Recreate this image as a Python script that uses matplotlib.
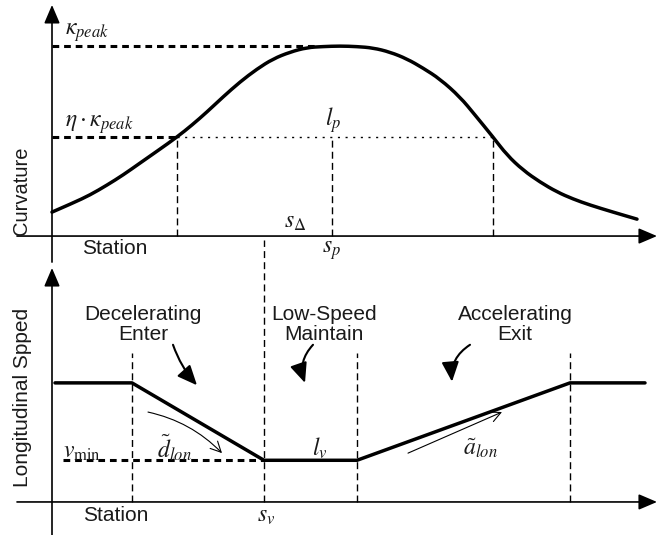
import matplotlib.pyplot as plt
from matplotlib.path import Path
from matplotlib.patches import PathPatch

plt.rcParams['font.family'] = ['Liberation Sans', 'DejaVu Sans']
plt.rcParams['mathtext.fontset'] = 'stix'

# curvature profile (station, curvature / kappa_peak)
curv_s = [0, 21, 38, 55, 71, 88, 106, 125, 140, 155, 171, 188, 205, 221, 238,
          255, 271, 288, 305, 321, 338, 355, 371, 388, 408, 423, 441, 455, 471,
          488, 505, 521, 538, 561, 585]
curv_k = [0.126, 0.174, 0.216, 0.268, 0.321, 0.384, 0.450, 0.521, 0.584, 0.653,
          0.732, 0.811, 0.879, 0.932, 0.968, 0.992, 0.997, 1.000, 0.997, 0.990,
          0.968, 0.932, 0.884, 0.826, 0.732, 0.637, 0.521, 0.426, 0.347, 0.284,
          0.232, 0.195, 0.163, 0.126, 0.089]
k_peak = 1.0
eta = 0.521
s_in, s_out = 125, 441      # where curvature crosses eta * k_peak
s_p = 280
s_delta = 212

# speed profile of the lower panel
speed_s = [3, 80, 212, 305, 518, 593]
speed_v = [20, 20, 7, 7, 20, 20]
v_min = 7
phase_bounds = [80, 305, 518]

TXT = '#1a1a1a'
THICK_DASH = (0, (2.2, 1.6))
THIN_DASH = (0, (5, 3))

fig = plt.figure(figsize=(6.57, 5.35), dpi=100)
ax1 = fig.add_axes([0, 275 / 535, 1, 260 / 535])
ax2 = fig.add_axes([0, 0, 1, 295 / 535])
for ax in (ax1, ax2):
    ax.set_axis_off()
    ax.set_xlim(-52, 605)
    ax.patch.set_alpha(0)
ax1.set_ylim(-0.126, 1.242)
ax2.set_ylim(-5.55, 44.0)


def axis_arrow(ax, start, end):
    ax.annotate('', xy=end, xytext=start, annotation_clip=False,
                arrowprops=dict(arrowstyle='-|>,head_length=0.75,head_width=0.32',
                                lw=1.2, color='k', shrinkA=0, shrinkB=0,
                                mutation_scale=15))


def note_arrow(ax, start, end, rad, thick=True):
    if thick:
        props = dict(arrowstyle='-|>,head_length=0.8,head_width=0.35', lw=1.5,
                     mutation_scale=15)
    else:
        props = dict(arrowstyle='->,head_length=0.5,head_width=0.25', lw=0.8,
                     mutation_scale=15)
    props.update(color='k', shrinkA=0, shrinkB=0,
                 connectionstyle='arc3,rad=%s' % rad)
    ax.annotate('', xy=end, xytext=start, arrowprops=props)


def smooth_path(xs, ys):
    # read points used as quadratic bezier controls, so the drawn line is smooth
    pts = list(zip(xs, ys))
    verts = [pts[0]]
    codes = [Path.MOVETO]
    for i in range(1, len(pts) - 1):
        mid = ((pts[i][0] + pts[i + 1][0]) / 2, (pts[i][1] + pts[i + 1][1]) / 2)
        verts += [pts[i], mid]
        codes += [Path.CURVE3, Path.CURVE3]
    verts.append(pts[-1])
    codes.append(Path.LINETO)
    return Path(verts, codes)


# ---------- upper panel: curvature ----------
axis_arrow(ax1, (-35, 0), (605, 0))
axis_arrow(ax1, (0, -0.137), (0, 1.216))

ax1.add_patch(PathPatch(smooth_path(curv_s, curv_k), fill=False, color='k',
                        lw=2.5, capstyle='round'))
ax1.plot([0, 263], [k_peak, k_peak], color='k', lw=2.2, ls=THICK_DASH)
ax1.plot([0, s_in], [eta * k_peak] * 2, color='k', lw=2.2, ls=THICK_DASH)
ax1.plot([s_in, s_out], [eta * k_peak] * 2, color='k', lw=1.0, ls=(0, (1.5, 4)))
for s in (s_in, s_p, s_out):
    ax1.plot([s, s], [0, eta * k_peak], color='k', lw=1.0, ls=THIN_DASH)

ax1.text(13, 1.068, r'$\kappa_{peak}$', fontsize=17, color=TXT, va='center')
ax1.text(13, 0.589, r'$\eta\cdot\kappa_{peak}$', fontsize=17, color=TXT, va='center')
ax1.text(273, 0.61, r'$l_p$', fontsize=17, color=TXT, va='center')
ax1.text(232, 0.074, r'$s_\Delta$', fontsize=17, color=TXT, va='center')
ax1.text(270, -0.074, r'$s_p$', fontsize=17, color=TXT, va='center')
ax1.text(30, -0.063, 'Station', fontsize=15, color=TXT, va='center')
ax1.text(-30, 0.237, 'Curvature', fontsize=14.5, color=TXT, rotation=90,
         ha='center', va='center')

# ---------- lower panel: longitudinal speed ----------
axis_arrow(ax2, (-35, 0), (605, 0))
axis_arrow(ax2, (0, -5.55), (0, 39.3))

ax2.plot(speed_s, speed_v, color='k', lw=2.5, solid_capstyle='round')
ax2.plot([11, s_delta], [v_min, v_min], color='k', lw=2.2, ls=THICK_DASH)
ax2.plot([s_delta, s_delta], [0, 44.0], color='k', lw=1.0, ls=THIN_DASH, clip_on=False)
for s in phase_bounds:
    ax2.plot([s, s], [0, 25], color='k', lw=1.0, ls=THIN_DASH)

ax2.text(91, 29.8, 'Decelerating\nEnter', fontsize=15, color=TXT,
         ha='center', va='center', linespacing=1.1)
ax2.text(272, 29.8, 'Low-Speed\nMaintain', fontsize=15, color=TXT,
         ha='center', va='center', linespacing=1.1)
ax2.text(463, 29.8, 'Accelerating\nExit', fontsize=15, color=TXT,
         ha='center', va='center', linespacing=1.1)

note_arrow(ax2, (121, 26.4), (145, 19.6), 0.1)
note_arrow(ax2, (261, 26.4), (253, 20.0), 0.3)
note_arrow(ax2, (418, 26.4), (400, 20.2), 0.3)
note_arrow(ax2, (96, 15.1), (170, 8.2), -0.15, thick=False)
note_arrow(ax2, (356, 8.2), (450, 15.1), 0, thick=False)

ax2.text(11, 8.4, r'$v_{\min}$', fontsize=17, color=TXT, va='center')
ax2.text(105, 9.07, r'$\tilde{d}_{lon}$', fontsize=17, color=TXT, va='center')
ax2.text(260, 9.07, r'$l_v$', fontsize=17, color=TXT, va='center')
ax2.text(411, 9.07, r'$\tilde{a}_{lon}$', fontsize=17, color=TXT, va='center')
ax2.text(205, -2.35, r'$s_v$', fontsize=17, color=TXT, va='center')
ax2.text(31, -2.2, 'Station', fontsize=15, color=TXT, va='center')
ax2.text(-29, 17.5, 'Longitudinal Spped', fontsize=15, color=TXT, rotation=90,
         ha='center', va='center')

fig.savefig('out.png', dpi=100)
